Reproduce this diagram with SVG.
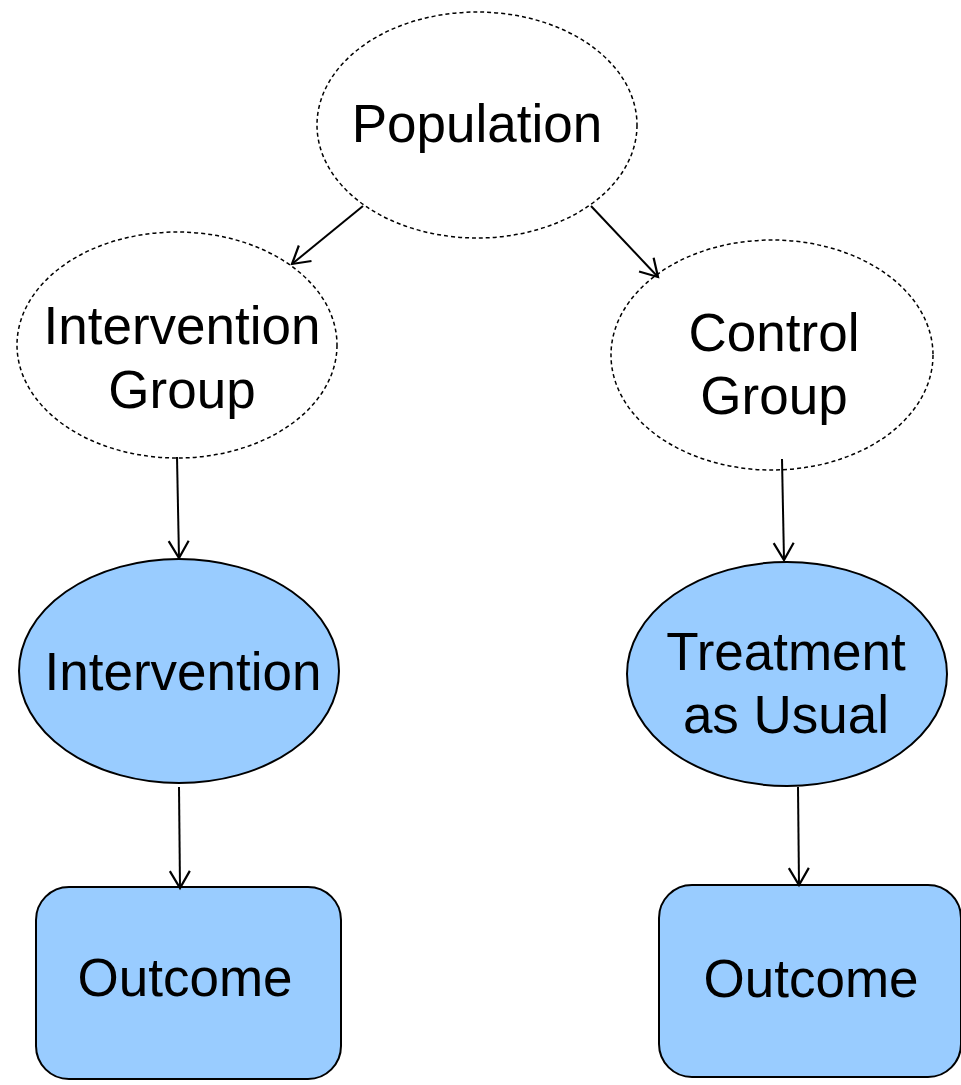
<svg xmlns="http://www.w3.org/2000/svg" width="961" height="1085" viewBox="0 0 961 1085">
  <style>
    .group { fill: #ffffff; stroke: #000000; stroke-width: 1.5; stroke-dasharray: 4 3; }
    .arm { fill: #99ccff; stroke: #000000; stroke-width: 2; }
    .label { font-family: "Liberation Sans", Arial, sans-serif; font-size: 53px; fill: #000000; text-anchor: middle; }
    .edge { stroke: #000000; stroke-width: 2; fill: none; marker-end: url(#arrow); }
  </style>
  <defs>
    <marker id="arrow" viewBox="0 0 24 24" refX="20" refY="12" markerWidth="24" markerHeight="24" markerUnits="userSpaceOnUse" orient="auto">
      <polyline points="3,2 20,12 3,22" fill="none" stroke="#000000" stroke-width="2.2"/>
    </marker>
  </defs>
  <rect width="961" height="1085" fill="#ffffff"/>

  <g id="population">
    <ellipse class="group" cx="477" cy="125" rx="160" ry="113"/>
    <text class="label" x="477" y="142">Population</text>
  </g>

  <g id="intervention-group">
    <ellipse class="group" cx="177" cy="345" rx="160" ry="113"/>
    <text class="label" x="182" y="344">Intervention</text>
    <text class="label" x="182" y="408">Group</text>
  </g>

  <g id="control-group">
    <ellipse class="group" cx="772" cy="355" rx="161" ry="115"/>
    <text class="label" x="774" y="351">Control</text>
    <text class="label" x="774" y="414">Group</text>
  </g>

  <g id="intervention">
    <ellipse class="arm" cx="179" cy="671" rx="160" ry="112"/>
    <text class="label" x="183" y="690">Intervention</text>
  </g>

  <g id="treatment-as-usual">
    <ellipse class="arm" cx="787" cy="674" rx="160" ry="112"/>
    <text class="label" x="786" y="670">Treatment</text>
    <text class="label" x="786" y="733">as Usual</text>
  </g>

  <g id="outcome-intervention">
    <rect class="arm" x="36" y="887" width="305" height="192" rx="33" ry="33"/>
    <text class="label" x="185" y="996">Outcome</text>
  </g>

  <g id="outcome-control">
    <rect class="arm" x="659" y="885" width="302" height="192" rx="33" ry="33"/>
    <text class="label" x="811" y="997">Outcome</text>
  </g>

  <g id="connectors">
    <line class="edge" x1="363" y1="206" x2="292" y2="264"/>
    <line class="edge" x1="591" y1="206" x2="658" y2="277"/>
    <line class="edge" x1="177" y1="457" x2="179" y2="558"/>
    <line class="edge" x1="782" y1="459" x2="784" y2="560"/>
    <line class="edge" x1="179" y1="787" x2="180" y2="888"/>
    <line class="edge" x1="798" y1="787" x2="799" y2="885"/>
  </g>
</svg>
